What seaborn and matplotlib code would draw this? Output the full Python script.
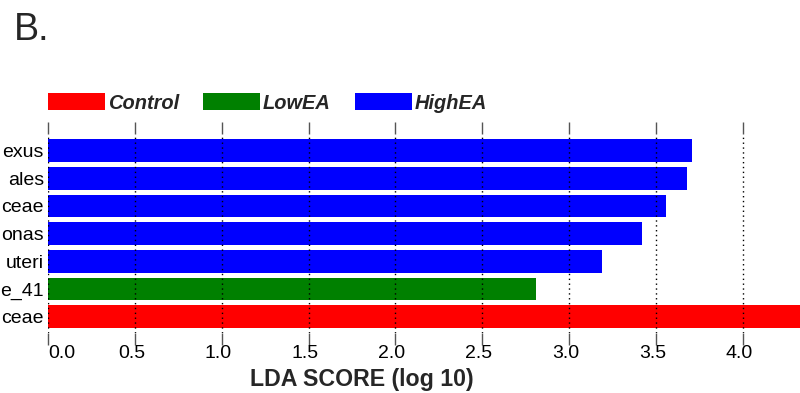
import matplotlib
matplotlib.use("Agg")
import matplotlib.pyplot as plt
import matplotlib.transforms as mtransforms
from matplotlib.patches import Patch
import numpy as np
import pandas as pd
import seaborn as sns

# LEfSe results: taxon labels (top to bottom), enriched group, LDA score
taxa = ["exus", "ales", "ceae", "onas", "uteri", "e_41", "ceae"]
groups = ["HighEA", "HighEA", "HighEA", "HighEA", "HighEA", "LowEA", "Control"]
lda_scores = [3.71, 3.68, 3.56, 3.42, 3.19, 2.81, 4.60]

group_order = ["Control", "LowEA", "HighEA"]
group_colors = ["#FF0000", "#008000", "#0000FF"]

x_ticks = [0.0, 0.5, 1.0, 1.5, 2.0, 2.5, 3.0, 3.5, 4.0]
x_tick_labels = ["0.0", "0.5", "1.0", "1.5", "2.0", "2.5", "3.0", "3.5", "4.0"]

sns.set_style("white")
plt.rcParams["font.family"] = ["Liberation Sans", "DejaVu Sans"]

df = pd.DataFrame({
    "rank": list(range(len(taxa))),
    "group": groups,
    "lda": lda_scores,
})
palette = dict(zip(group_order, group_colors))

fig = plt.figure(figsize=(8.0, 3.93), dpi=100)
W, H = 800.0, 393.0
ax = fig.add_axes([48 / W, (H - 333) / H, 752 / W, (333 - 134) / H])

sns.barplot(
    data=df, x="lda", y="rank", hue="group", order=list(range(len(taxa))),
    hue_order=group_order, palette=palette, orient="h", dodge=False,
    width=0.82, linewidth=0, saturation=1, legend=False, ax=ax,
)

ax.set_xlim(0, 752 / 173.7)
ax.set_ylim(6.59, -0.60)
ax.set_xlabel("")
ax.set_ylabel("")
for s in ax.spines.values():
    s.set_visible(False)

ax.set_yticks(range(len(taxa)), labels=taxa)
ax.tick_params(axis="y", length=0, pad=3, labelsize=14, labelcolor="black")

ax.set_xticks(x_ticks, labels=x_tick_labels)
ax.tick_params(axis="x", top=True, bottom=True, direction="out", length=8.6,
               width=1.0, color="#555555", labelsize=14, labelcolor="black",
               pad=0)
ax.set_axisbelow(False)
ax.xaxis.grid(True, linestyle=(0, (1, 2.5)), color="black", linewidth=1.0)
ax.yaxis.grid(False)

# nudge the value labels slightly left of their ticks; keep 0.0 inside the axis
shift = mtransforms.ScaledTranslation(-3.5 / 100, 0, fig.dpi_scale_trans)
for i, lab in enumerate(ax.get_xticklabels()):
    if i == 0:
        lab.set_horizontalalignment("left")
    else:
        lab.set_transform(lab.get_transform() + shift)

handles = [Patch(facecolor=c, edgecolor="none", label=g)
           for g, c in zip(group_order, group_colors)]
fig.legend(
    handles=handles, loc="center left", bbox_to_anchor=(47.7 / W, (H - 103) / H),
    bbox_transform=fig.transFigure, ncol=3, frameon=False,
    prop={"size": 14.4, "weight": "bold", "style": "italic"},
    handlelength=2.85, handleheight=0.9, handletextpad=0.15,
    columnspacing=1.2, borderpad=0, borderaxespad=0,
)

fig.text(14 / W, (H - 40) / H, "B.", fontsize=27, va="baseline", ha="left")
fig.text(362 / W, (H - 386) / H, "LDA SCORE (log 10)", fontsize=16.7,
         fontweight="bold", va="baseline", ha="center")

fig.savefig("out.png", dpi=100)
